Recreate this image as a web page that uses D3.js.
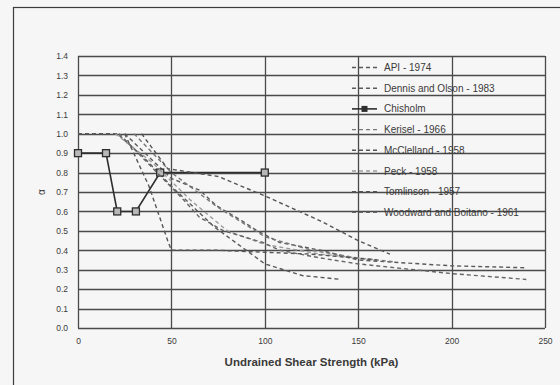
<!DOCTYPE html>
<html>
<head>
<meta charset="utf-8">
<script src="https://cdn.jsdelivr.net/npm/d3@7"></script>
<style>
  html, body { margin: 0; padding: 0; background: #f7f6f6; }
  svg { display: block; }
  text { font-family: "Liberation Sans", Arial, sans-serif; fill: #3a3a3a; }
</style>
</head>
<body>
<svg id="chart" width="560" height="385"></svg>
<script>
// Adhesion factor (alpha) versus undrained shear strength, several published methods
const seriesNames = [
  "API - 1974",
  "Dennis and Olson - 1983",
  "Chisholm",
  "Kerisel - 1966",
  "McClelland - 1958",
  "Peck - 1958",
  "Tomlinson - 1957",
  "Woodward and Boitano - 1961"
];

// x: undrained shear strength (kPa), y: alpha
const apiSu      = [0, 21, 35, 50, 73, 100, 120, 141];
const apiAlpha   = [1.0, 1.0, 0.88, 0.73, 0.52, 0.33, 0.27, 0.25];

const dennisSu    = [25, 50, 65, 74, 88, 96, 108, 130, 150, 200, 240];
const dennisAlpha = [1.0, 0.77, 0.71, 0.63, 0.55, 0.50, 0.44, 0.40, 0.35, 0.32, 0.31];

const chisholmSu    = [0, 15, 21, 31, 44, 100];
const chisholmAlpha = [0.9, 0.9, 0.6, 0.6, 0.8, 0.8];

const keriselSu    = [30, 50, 75, 100, 125, 150, 170];
const keriselAlpha = [1.0, 0.80, 0.62, 0.47, 0.40, 0.36, 0.34];

const mcclellandSu    = [34, 48, 75, 100, 130, 150, 167];
const mcclellandAlpha = [1.0, 0.82, 0.78, 0.68, 0.55, 0.45, 0.38];

const peckSu    = [20, 40, 60, 80, 100, 130, 160];
const peckAlpha = [1.0, 0.85, 0.66, 0.50, 0.43, 0.38, 0.35];

const tomlinsonSu    = [25, 38, 48, 50, 75, 100, 125, 160];
const tomlinsonAlpha = [1.0, 0.73, 0.45, 0.40, 0.40, 0.39, 0.38, 0.35];

const woodwardSu    = [22, 55, 65, 78, 99, 108, 130, 150, 200, 240];
const woodwardAlpha = [1.0, 0.675, 0.57, 0.50, 0.44, 0.40, 0.36, 0.33, 0.28, 0.25];

const xTicks = [0, 50, 100, 150, 200, 250];
const yTicks = [0, 0.1, 0.2, 0.3, 0.4, 0.5, 0.6, 0.7, 0.8, 0.9, 1.0, 1.1, 1.2, 1.3, 1.4];

const xTitle = "Undrained Shear Strength (kPa)";
const yTitle = "α";

const toPoints = (xs, ys) => xs.map((x, i) => ({ x, y: ys[i] }));

const series = [
  { name: seriesNames[0], pts: toPoints(apiSu, apiAlpha), kind: "dash", color: "#5a5a5a" },
  { name: seriesNames[1], pts: toPoints(dennisSu, dennisAlpha), kind: "dash", color: "#5a5a5a" },
  { name: seriesNames[2], pts: toPoints(chisholmSu, chisholmAlpha), kind: "solid", color: "#2e2e2e" },
  { name: seriesNames[3], pts: toPoints(keriselSu, keriselAlpha), kind: "dash", color: "#777" },
  { name: seriesNames[4], pts: toPoints(mcclellandSu, mcclellandAlpha), kind: "dash", color: "#555" },
  { name: seriesNames[5], pts: toPoints(peckSu, peckAlpha), kind: "dash", color: "#9a9a9a" },
  { name: seriesNames[6], pts: toPoints(tomlinsonSu, tomlinsonAlpha), kind: "dash", color: "#555" },
  { name: seriesNames[7], pts: toPoints(woodwardSu, woodwardAlpha), kind: "dash", color: "#666" }
];

const svg = d3.select("#chart");

// outer chart frame
svg.append("rect")
  .attr("x", 13.5).attr("y", 7.5)
  .attr("width", 560).attr("height", 400)
  .attr("fill", "none").attr("stroke", "#3c3c3c").attr("stroke-width", 1.2);

const plot = { left: 78, right: 545, top: 56, bottom: 328 };

const x = d3.scaleLinear().domain([0, 250]).range([plot.left, plot.right]);
const y = d3.scaleLinear().domain([0, 1.4]).range([plot.bottom, plot.top]);

// gridlines
const grid = svg.append("g");
grid.selectAll("line.h").data(yTicks).join("line")
  .attr("x1", plot.left).attr("x2", plot.right)
  .attr("y1", d => Math.round(y(d)) + 0.5).attr("y2", d => Math.round(y(d)) + 0.5)
  .attr("stroke", "#4a4a4a").attr("stroke-width", 1.3);
grid.selectAll("line.v").data(xTicks).join("line")
  .attr("y1", plot.top).attr("y2", plot.bottom)
  .attr("x1", d => Math.round(x(d)) + 0.5).attr("x2", d => Math.round(x(d)) + 0.5)
  .attr("stroke", "#4a4a4a").attr("stroke-width", 1.3);

// axes (labels only, lines come from the grid)
const xAxis = d3.axisBottom(x).tickValues(xTicks).tickSize(0).tickPadding(10).tickFormat(d3.format("d"));
const yAxis = d3.axisLeft(y).tickValues(yTicks).tickSize(0).tickPadding(10).tickFormat(d3.format(".1f"));

const gx = svg.append("g").attr("transform", `translate(0,${plot.bottom})`).call(xAxis);
const gy = svg.append("g").attr("transform", `translate(${plot.left},0)`).call(yAxis);
[gx, gy].forEach(g => {
  g.select(".domain").remove();
  g.selectAll("text").attr("font-size", 8.5).attr("fill", "#444")
    .style("font-family", "'Liberation Sans', Arial, sans-serif");
});

// axis titles
svg.append("text")
  .attr("x", (plot.left + plot.right) / 2).attr("y", 366)
  .attr("text-anchor", "middle").attr("font-size", 11.5).attr("font-weight", "bold")
  .text(xTitle);
svg.append("text")
  .attr("transform", `translate(45,${y(0.7)}) rotate(-90)`)
  .attr("text-anchor", "middle").attr("font-size", 10)
  .text(yTitle);

// curves
const line = d3.line().x(d => x(d.x)).y(d => y(d.y));
const curves = svg.append("g");
series.forEach(s => {
  curves.append("path")
    .attr("d", line(s.pts))
    .attr("fill", "none")
    .attr("stroke", s.color)
    .attr("stroke-width", s.kind === "solid" ? 1.6 : 1.4)
    .attr("stroke-dasharray", s.kind === "solid" ? null : "4,3");
  if (s.kind === "solid") {
    curves.selectAll(null).data(s.pts).join("rect")
      .attr("x", d => x(d.x) - 3.5).attr("y", d => y(d.y) - 3.5)
      .attr("width", 7).attr("height", 7)
      .attr("fill", "#b8b8b8").attr("stroke", "#2e2e2e").attr("stroke-width", 1.3);
  }
});

// legend
const legend = svg.append("g");
series.forEach((s, i) => {
  const ly = 67.5 + i * 20.7;
  legend.append("line")
    .attr("x1", 352).attr("x2", 377).attr("y1", ly).attr("y2", ly)
    .attr("stroke", s.color)
    .attr("stroke-width", s.kind === "solid" ? 1.6 : 1.4)
    .attr("stroke-dasharray", s.kind === "solid" ? null : "4,3");
  if (s.kind === "solid") {
    legend.append("rect").attr("x", 361.5).attr("y", ly - 3).attr("width", 6).attr("height", 6)
      .attr("fill", "#2e2e2e");
  }
  legend.append("text")
    .attr("x", 384).attr("y", ly).attr("dy", "0.35em")
    .attr("font-size", 10).attr("fill", "#444")
    .text(s.name);
});
</script>
</body>
</html>
